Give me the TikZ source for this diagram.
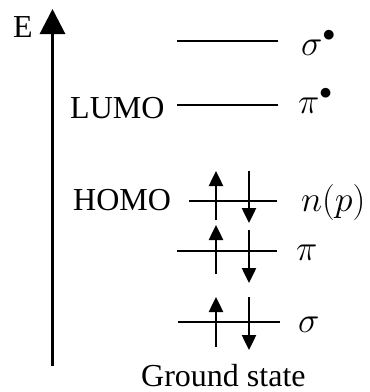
\RequirePackage{fix-cm}
\documentclass[tikz,border=0pt]{standalone}
\usepackage{fontspec}
\setmainfont{Liberation Serif}
\usetikzlibrary{arrows.meta}
\begin{document}
\begin{tikzpicture}[x=1pt,y=-1pt,
  lvl/.style={line width=2pt},
  spin/.style={line width=2.5pt,-{Triangle[width=14pt,length=15pt]}},
  axis/.style={line width=3pt,-{Triangle[width=25pt,length=25pt]}},
  txt/.style={anchor=base west,inner sep=0pt,font=\fontsize{32}{32}\selectfont},
  orb/.style={anchor=base west,inner sep=0pt,font=\fontsize{36}{36}\selectfont}]
\useasboundingbox (0,0) rectangle (370,392);
% axis
\coordinate (ax0) at (52.5,366);
\coordinate (ax1) at (52.5,9);
\draw[axis] (ax0) -- (ax1);
\node[txt] (E) at (13,37) {E};
% levels
\coordinate (s1a) at (177,41);  \coordinate (s1b) at (278,41);
\coordinate (p1a) at (177,105); \coordinate (p1b) at (278,105);
\coordinate (na)  at (189,201); \coordinate (nb)  at (277,201);
\coordinate (pa)  at (177,251); \coordinate (pb)  at (277,251);
\coordinate (sa)  at (178,322); \coordinate (sb)  at (280,322);
\draw[lvl] (s1a) -- (s1b);
\draw[lvl] (p1a) -- (p1b);
\draw[lvl] (na) -- (nb);
\draw[lvl] (pa) -- (pb);
\draw[lvl] (sa) -- (sb);
% spins
\coordinate (nu0) at (216,220); \coordinate (nu1) at (216,171);
\coordinate (nd0) at (249,171); \coordinate (nd1) at (249,223);
\coordinate (pu0) at (216,274); \coordinate (pu1) at (216,225);
\coordinate (pd0) at (249,230); \coordinate (pd1) at (249,283);
\coordinate (su0) at (216,347); \coordinate (su1) at (216,297);
\coordinate (sd0) at (249,297); \coordinate (sd1) at (249,350);
\draw[spin] (nu0) -- (nu1);
\draw[spin] (nd0) -- (nd1);
\draw[spin] (pu0) -- (pu1);
\draw[spin] (pd0) -- (pd1);
\draw[spin] (su0) -- (su1);
\draw[spin] (sd0) -- (sd1);
% labels
\node[txt] (lumo) at (70,118) {LUMO};
\node[txt] (homo) at (73,210) {HOMO};
\node[txt] (gs) at (141,386) {Ground state};
\node[orb] (lsstar) at (301,55) {$\sigma^{\bullet}$};
\node[orb] (lpstar) at (298,113) {$\pi^{\bullet}$};
\node[orb] (ln) at (301,211) {$n(p)$};
\node[orb] (lp) at (296,260) {$\pi$};
\node[orb] (ls) at (298,332) {$\sigma$};
\end{tikzpicture}
\end{document}
